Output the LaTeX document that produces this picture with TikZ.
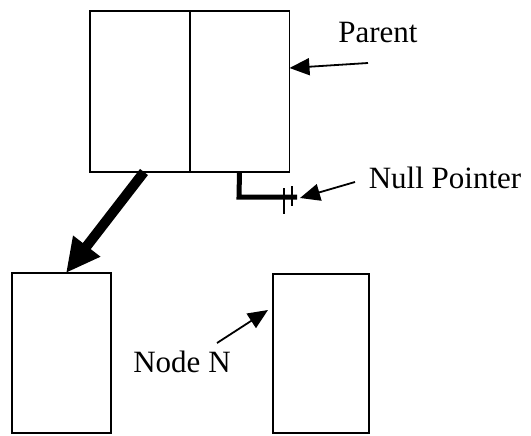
\documentclass[tikz,border=0pt]{standalone}
\usepackage{fontspec}
\setmainfont{Liberation Serif}
\usetikzlibrary{arrows.meta}
\begin{document}
\begin{tikzpicture}[x=1pt,y=-1pt,
  cell/.style={draw, line width=1.6pt, minimum width=100pt, inner sep=0pt, outer sep=0pt},
  leaf/.style={draw, line width=1.6pt, inner sep=0pt, outer sep=0pt},
  lbl/.style={font=\fontsize{31}{36}\selectfont, inner sep=0pt, anchor=base},
  pointer/.style={line width=1.8pt, -{Triangle[length=20pt,width=17pt]}},
  child/.style={line width=10pt, -{Triangle[length=34pt,width=32pt]}},
  nullptr/.style={line width=5pt},
  tick/.style={line width=1.3pt}]
\useasboundingbox (0,0) rectangle (531,436);

% parent record: two cells side by side
\node[cell, minimum height=161pt] (pl) at (140,91.5) {};
\node[cell, minimum height=161pt] (pr) at (239.5,91.5) {};

% lower records
\node[leaf, minimum width=99pt, minimum height=160pt] (left) at (61.5,353) {};
\node[leaf, minimum width=96pt, minimum height=159pt] (nodeN) at (321,353.5) {};

% child pointer from the left cell
\coordinate (cs) at (144,172);
\draw[child] (cs) -- (left.north -| 66,0);

% null pointer from the right cell, ending in a ground mark
\coordinate (nbend) at (239,197);
\coordinate (nend) at (297,197);
\draw[nullptr] (pr.south) -- (nbend) -- (nend);
\draw[tick] (284,188) -- (284,214);
\draw[tick] (292,186) -- (292,206);

% labels
\node[lbl] (tparent) at (378,43) {Parent};
\node[lbl] (tnull) at (445,189) {Null Pointer};
\node[lbl] (tnode) at (182,372) {Node N};

\coordinate (pa) at (368,63);
\draw[pointer] (pa) -- (pr.east |- 0,68);
\coordinate (na) at (355,182);
\draw[pointer] (na) -- (300,198);
\coordinate (nn) at (217,343);
\draw[pointer] (nn) -- (268,310);
\end{tikzpicture}
\end{document}
